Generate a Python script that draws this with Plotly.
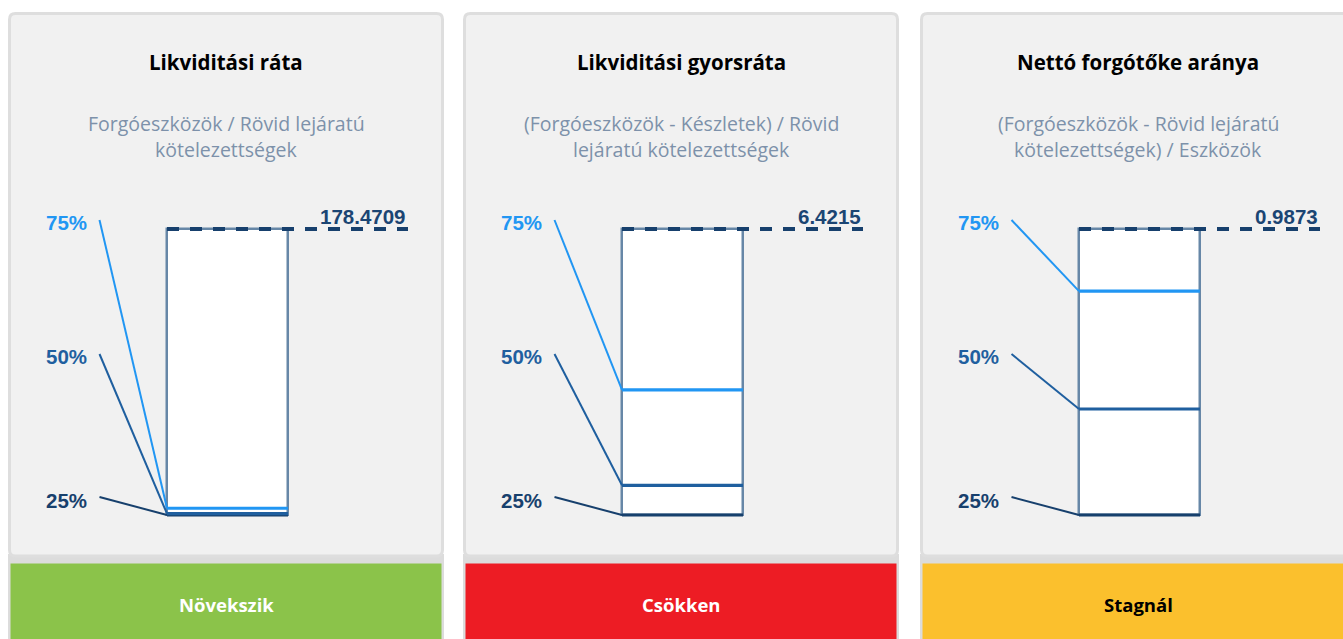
import plotly.graph_objects as go

W, H = 1343, 639

# ---------------- data ----------------
titles = ["Likviditási ráta", "Likviditási gyorsráta", "Nettó forgótőke aránya"]
formula_line1 = ["Forgóeszközök / Rövid lejáratú",
                 "(Forgóeszközök - Készletek) / Rövid",
                 "(Forgóeszközök - Rövid lejáratú"]
formula_line2 = ["kötelezettségek",
                 "lejáratú kötelezettségek",
                 "kötelezettségek) / Eszközök"]
max_values = [178.4709, 6.4215, 0.9873]
value_labels = ["178.4709", "6.4215", "0.9873"]
q25_values = [0.0, 0.0, 0.0]
q50_values = [0.8, 0.667, 0.366]
q75_values = [4.2, 2.81, 0.773]
quartile_labels = ["25%", "50%", "75%"]
trend_labels = ["Növekszik", "Csökken", "Stagnál"]
trend_colors = ["#8bc34a", "#ed1c24", "#fbc02d"]
trend_text_colors = ["#ffffff", "#ffffff", "#000000"]

# ---------------- layout constants (pixels) ----------------
CARD_LEFT = [8, 463, 920]
CARD_W = 436
CARD_TOP = 12
CARD_BOTTOM = 557
BAR_OFF = 159          # bar left edge offset inside card
UNIT = 121             # bar width in px
BAR_TOP = 229
BAR_BOTTOM = 515
DOM_TOP, DOM_BOT = 190, 540
X_DOM_L, X_DOM_R = 10, 415
LABEL_CY = [500, 356, 222]
LEADER_Y = [497, 354, 220]
LEADER_X_OFF = 91.5
LABEL_R_OFF = 81
DASH_END_OFF = 400
Q_COLORS = ["#17406d", "#1f5f9f", "#2196f3"]
BAR_LINE = "#6787a7"
NAVY = "#17406d"


def px(x):
    return x / W


def py(y):
    return 1 - y / H


def rrect_path(x0, y0, x1, y1, r):
    pts = [
        ("M", [(x0 + r, y0)]), ("L", [(x1 - r, y0)]), ("Q", [(x1, y0), (x1, y0 + r)]),
        ("L", [(x1, y1 - r)]), ("Q", [(x1, y1), (x1 - r, y1)]),
        ("L", [(x0 + r, y1)]), ("Q", [(x0, y1), (x0, y1 - r)]),
        ("L", [(x0, y0 + r)]), ("Q", [(x0, y0), (x0 + r, y0)]),
    ]
    s = ""
    for cmd, ps in pts:
        s += cmd + " " + " ".join(f"{px(a):.6f},{py(b):.6f}" for a, b in ps) + " "
    return s + "Z"


fig = go.Figure()
shapes = []
annotations = []

for i in range(3):
    L = CARD_LEFT[i]
    M = max_values[i]
    s = M / (BAR_BOTTOM - BAR_TOP)       # data units per pixel
    sfx = "" if i == 0 else str(i + 1)
    xa, ya = "x" + sfx, "y" + sfx

    def u(off):
        return (off - BAR_OFF) / UNIT

    def yv(pyx):
        return (BAR_BOTTOM - pyx) * s

    # ---- card backgrounds ----
    shapes.append(dict(type="rect", xref="paper", yref="paper",
                       x0=px(L), x1=px(L + CARD_W), y0=py(H + 10), y1=py(CARD_BOTTOM - 3),
                       fillcolor="#dcdcdc", line=dict(width=0), layer="below"))
    shapes.append(dict(type="rect", xref="paper", yref="paper",
                       x0=px(L + 2.5), x1=px(L + CARD_W - 2.5), y0=py(H + 10), y1=py(563.5),
                       fillcolor=trend_colors[i], line=dict(width=0), layer="below"))
    shapes.append(dict(type="path", xref="paper", yref="paper",
                       path=rrect_path(L + 1.5, CARD_TOP + 1.5, L + CARD_W - 1.5, CARD_BOTTOM - 1, 6),
                       fillcolor="#f1f1f1", line=dict(color="#dedede", width=3), layer="below"))

    # ---- texts ----
    cx = px(L + CARD_W / 2)
    annotations.append(dict(xref="paper", yref="paper", x=cx, y=py(62), text=titles[i],
                            showarrow=False, xanchor="center", yanchor="middle",
                            font=dict(family="Open Sans", size=20.5, color="#000000", weight=700)))
    for line_txt, ly in ((formula_line1[i], 123), (formula_line2[i], 149)):
        annotations.append(dict(xref="paper", yref="paper", x=cx, y=py(ly), text=line_txt,
                                showarrow=False, xanchor="center", yanchor="middle",
                                font=dict(family="Open Sans", size=19.5, color="#7d91aa")))
    annotations.append(dict(xref="paper", yref="paper", x=cx, y=py(604), text=trend_labels[i],
                            showarrow=False, xanchor="center", yanchor="middle",
                            font=dict(family="Open Sans", size=18.5, color=trend_text_colors[i],
                                      weight=700)))

    # ---- bar ----
    fig.add_trace(go.Bar(x=[0.5], y=[M], base=0, width=1, xaxis=xa, yaxis=ya,
                         marker=dict(color="#ffffff", line=dict(color=BAR_LINE, width=2.5)),
                         hoverinfo="skip", showlegend=False))

    # ---- quartiles ----
    qs = [q25_values[i], q50_values[i], q75_values[i]]
    for k in range(3):
        fig.add_trace(go.Scatter(x=[u(LEADER_X_OFF), 0], y=[yv(LEADER_Y[k]), qs[k]],
                                 xaxis=xa, yaxis=ya, mode="lines",
                                 line=dict(color=Q_COLORS[k], width=2),
                                 hoverinfo="skip", showlegend=False))
    for k in range(3):
        fig.add_trace(go.Scatter(x=[0, 1], y=[qs[k], qs[k]], xaxis=xa, yaxis=ya, mode="lines",
                                 line=dict(color=Q_COLORS[k], width=3.2),
                                 hoverinfo="skip", showlegend=False))
        annotations.append(dict(xref=xa, yref=ya, x=u(LABEL_R_OFF), y=yv(LABEL_CY[k]),
                                text=quartile_labels[k], showarrow=False,
                                xanchor="right", yanchor="middle",
                                font=dict(family="Liberation Sans", size=20.5, color=Q_COLORS[k],
                                          weight=700)))

    # ---- max dashed line + value ----
    fig.add_trace(go.Scatter(x=[0, u(DASH_END_OFF)], y=[M, M], xaxis=xa, yaxis=ya, mode="lines",
                             line=dict(color=NAVY, width=4, dash="12px,11px"),
                             hoverinfo="skip", showlegend=False))
    annotations.append(dict(xref=xa, yref=ya, x=u(DASH_END_OFF), y=M, text=value_labels[i],
                            showarrow=False, xanchor="right", yanchor="bottom", yshift=-1,
                            font=dict(family="Liberation Sans", size=20.5, color="#1b4573",
                                      weight=700)))

    axis_common = dict(visible=False, fixedrange=True, showgrid=False, zeroline=False)
    fig.update_layout({
        ("xaxis" + sfx): dict(domain=[px(L + X_DOM_L), px(L + X_DOM_R)],
                              range=[u(X_DOM_L), u(X_DOM_R)], anchor=ya, **axis_common),
        ("yaxis" + sfx): dict(domain=[py(DOM_BOT), py(DOM_TOP)],
                              range=[yv(DOM_BOT), yv(DOM_TOP)], anchor=xa, **axis_common),
    })

fig.update_layout(
    width=W, height=H, margin=dict(l=0, r=0, t=0, b=0),
    paper_bgcolor="#ffffff", plot_bgcolor="rgba(0,0,0,0)",
    shapes=shapes, annotations=annotations, showlegend=False, bargap=0,
)

fig.write_html("out.html", config={"displayModeBar": False},
               post_script="document.body.style.margin='0';document.body.style.overflow='hidden';")
